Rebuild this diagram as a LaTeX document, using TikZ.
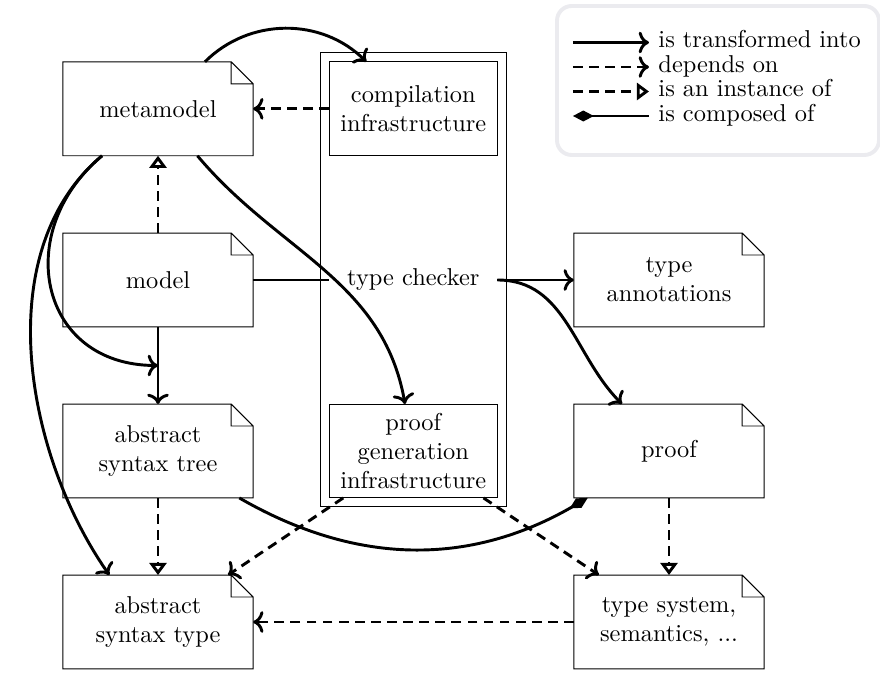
\documentclass[tikz,border=0pt]{standalone}
\usepackage{tikz}
\usetikzlibrary{arrows.meta,fit,calc}
\definecolor{legendgray}{RGB}{235,235,239}
\tikzset{
  docnode/.style={minimum width=78pt, minimum height=38.5pt, align=center, inner sep=1pt, outer sep=0pt},
  infrabox/.style={draw, minimum width=69pt, minimum height=38.5pt, align=center, inner sep=1pt, outer sep=0pt},
  checker/.style={minimum width=69pt, minimum height=20pt, inner sep=1pt, outer sep=0pt},
  container/.style={draw, inner sep=3.7pt},
  transform/.style={very thick, ->},
  dependson/.style={very thick, dash pattern=on 4pt off 2.6pt, ->},
  instanceof/.style={very thick, dash pattern=on 4pt off 2.6pt, -{Triangle[open, length=5pt, width=7pt]}},
  composedof/.style={very thick, {Diamond[length=8.5pt, width=4.5pt]}-},
  legendbox/.style={draw=legendgray, line width=1.6pt, rounded corners=6pt, fill=white},
  legendtext/.style={anchor=mid west, inner sep=0pt}
}

\begin{document}
\begin{tikzpicture}[x=0.41pt, y=-0.41pt]
    \useasboundingbox (0,0) rectangle (880,673);
    % ---------------------
    \node[docnode] (metamodel) at (158,108.8) {metamodel};
    \node[docnode] (model) at (158,280) {model};
    \node[docnode] (ast) at (158,451) {abstract\\syntax tree};
    \node[docnode] (asttype) at (158,622) {abstract\\syntax type};
    \node[docnode] (annot) at (669,280) {type\\annotations};
    \node[docnode] (proof) at (669,451) {proof};
    \node[docnode] (typesys) at (669,622) {type system,\\semantics, ...};
    % folded corner
    \foreach \n in {metamodel,model,ast,asttype,annot,proof,typesys}
      \draw (\n.south west) -- (\n.south east) -- ([yshift=-9pt]\n.north east)
        -- ([xshift=-9pt]\n.north east) -- (\n.north west) -- cycle
        ([xshift=-9pt]\n.north east) |- ([yshift=-9pt]\n.north east);
    % ---------------------
    \node[infrabox] (comp) at (413.3,108.8) {compilation\\infrastructure};
    \node[checker] (checker) at (413.3,280) {type checker};
    \node[infrabox] (proofgen) at (413.3,451) {proof\\generation\\infrastructure};
    \node[container, fit=(comp) (proofgen)] (tcbox) {};
    \coordinate (mid) at ($(model.south)!0.5!(ast.north)$);
    % ---------------------
    \draw
    (metamodel)
    edge[transform, out=45, in=135] (comp)
    edge[transform, out=-50, in=100] (proofgen)
    edge[transform, out=-140, in=180, looseness=1.4] (mid)
    edge[transform, out=-140, in=125, looseness=0.9] (asttype.136)
    (comp)
    edge[dependson] (metamodel)
    (model)
    edge[instanceof] (metamodel)
    edge[transform] (ast)
    edge[very thick] (checker)
    (checker)
    edge[transform] (annot)
    edge[transform, out=0, in=135] (proof)
    (ast)
    edge[instanceof] (asttype)
    (proof)
    edge[instanceof] (typesys)
    edge[composedof, out=-150, in=-30] (ast)
    (proofgen)
    edge[dependson] (asttype)
    edge[dependson] (typesys)
    (typesys)
    edge[dependson] (asttype);
    % ---------------------
    \draw[legendbox] (557,6) rectangle (879,155);
    \coordinate (lg1s) at (573,42.5);  \coordinate (lg1e) at (649,42.5);
    \coordinate (lg2s) at (573,67);    \coordinate (lg2e) at (649,67);
    \coordinate (lg3s) at (573,91.5);  \coordinate (lg3e) at (649,91.5);
    \coordinate (lg4s) at (573,116);   \coordinate (lg4e) at (649,116);
    \node[legendtext] (lg1) at (658,42.5) {is transformed into};
    \node[legendtext] (lg2) at (658,67) {depends on};
    \node[legendtext] (lg3) at (658,91.5) {is an instance of};
    \node[legendtext] (lg4) at (658,116) {is composed of};
    \draw[transform] (lg1s) -- (lg1e);
    \draw[dependson] (lg2s) -- (lg2e);
    \draw[instanceof] (lg3s) -- (lg3e);
    \draw[composedof] (lg4s) -- (lg4e);
\end{tikzpicture}
\end{document}
